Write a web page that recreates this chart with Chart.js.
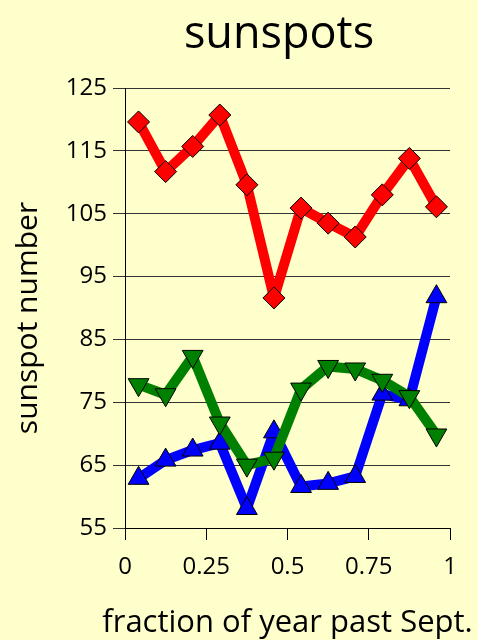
<!DOCTYPE html>
<html>
<head>
<meta charset="utf-8">
<script src="https://cdn.jsdelivr.net/npm/chart.js@4/dist/chart.umd.min.js"></script>
<style>
  body { margin: 0; background: #FFFFCC; }
  #wrap { width: 478px; height: 640px; }
</style>
</head>
<body>
<div id="wrap"><canvas id="sun-chart" width="478" height="640"></canvas></div>
<script>
// months as fraction of year past Sept.
const fractions = [0.0417, 0.125, 0.2083, 0.2917, 0.375, 0.4583, 0.5417, 0.625, 0.7083, 0.7917, 0.875, 0.9583];
const redValues = [119.6, 111.7, 115.7, 120.7, 109.6, 91.6, 105.9, 103.5, 101.3, 108.0, 113.8, 106.1];
const greenValues = [77.8, 76.2, 82.3, 71.7, 65.0, 66.1, 77.1, 80.7, 80.3, 78.5, 75.9, 69.8];
const blueValues = [62.9, 65.8, 67.4, 68.5, 58.1, 70.3, 61.6, 62.1, 63.2, 76.3, 75.4, 91.8];
const yTicks = { min: 55, max: 125, step: 10 };
const xTicks = { min: 0, max: 1, step: 0.25 };
const chartTitle = 'sunspots';
const xTitle = 'fraction of year past Sept.';
const yTitle = 'sunspot number';

function toPoints(values) {
  return values.map((v, i) => ({ x: fractions[i], y: v }));
}

function makeSet(values, color, style, rotation) {
  return {
    data: toPoints(values),
    borderColor: color,
    backgroundColor: color,
    borderWidth: 10,
    borderJoinStyle: 'round',
    pointStyle: style,
    pointRotation: rotation,
    pointRadius: style == 'rectRot' ? 11 : 12,
    pointBorderColor: '#000',
    pointBorderWidth: 1,
    pointBackgroundColor: color,
    tension: 0
  };
}

const font = 'Open Sans';

// titles drawn by hand, the x title is wider than the plot area
const textPlugin = {
  id: 'texts',
  afterDraw(chart) {
    const c = chart.ctx;
    const area = chart.chartArea;
    c.save();
    c.fillStyle = '#000';
    c.textAlign = 'center';
    c.textBaseline = 'alphabetic';
    c.font = '45px "' + font + '"';
    c.fillText(chartTitle, 279, 48);
    c.font = '31px "' + font + '"';
    c.fillText(xTitle, (area.left + area.right) / 2, 632);
    c.translate(37, 318);
    c.rotate(-Math.PI / 2);
    c.font = '30px "' + font + '"';
    c.fillText(yTitle, 0, 0);
    c.restore();
  }
};

const ctx = document.getElementById('sun-chart').getContext('2d');
const myChart = new Chart(ctx, {
  type: 'line',
  data: {
    datasets: [
      makeSet(redValues, '#FF0000', 'rectRot', 0),
      makeSet(greenValues, '#008000', 'triangle', 180),
      makeSet(blueValues, '#0000FF', 'triangle', 0)
    ]
  },
  plugins: [textPlugin],
  options: {
    responsive: false,
    animation: false,
    layout: { padding: { left: 0, right: 28, top: 88, bottom: 0 } },
    plugins: {
      legend: { display: false },
      tooltip: { enabled: false },
      title: { display: false }
    },
    scales: {
      x: {
        type: 'linear',
        min: xTicks.min,
        max: xTicks.max,
        ticks: {
          stepSize: xTicks.step, color: '#000', padding: 13, maxRotation: 0,
          font: { family: font, size: 24 },
          callback: v => String(v)
        },
        grid: { drawOnChartArea: false, drawTicks: true, tickLength: 12, color: '#000', tickColor: '#000' },
        border: { color: '#000', width: 1 },
        afterFit: s => { s.height = 112; }
      },
      y: {
        min: yTicks.min,
        max: yTicks.max,
        ticks: { stepSize: yTicks.step, color: '#000', padding: 6, font: { family: font, size: 24 } },
        grid: { color: '#333', tickColor: '#333', tickLength: 12 },
        border: { color: '#000', width: 1 },
        afterFit: s => { s.width = 125; }
      }
    }
  }
});
</script>
</body>
</html>
